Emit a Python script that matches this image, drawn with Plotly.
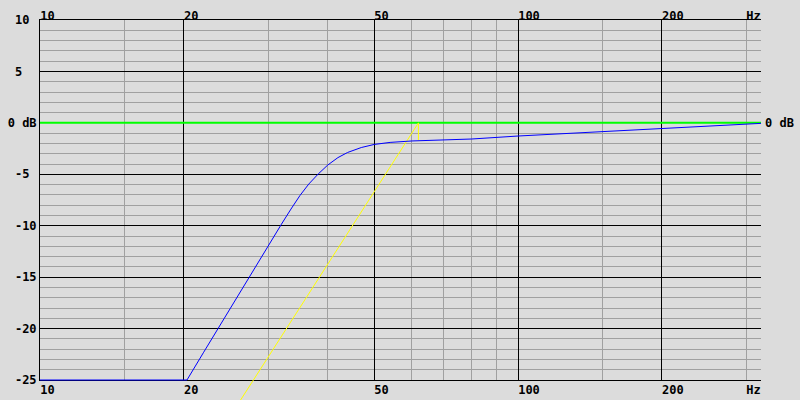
import plotly.graph_objects as go

# ---- data ----
freq_blue = [10, 20.3, 22, 24, 26, 28, 30, 32, 33.5, 35, 36.5, 38.2, 40, 42, 44, 47, 50, 54, 60,
             70, 80, 100, 130, 160, 200, 250, 290, 322.4]
db_blue = [-25, -25, -22.3, -19.4, -16.7, -14.2, -11.95, -9.85, -8.38, -7.05, -5.95, -4.97, -4.1,
           -3.38, -2.88, -2.4, -2.1, -1.9, -1.76,
           -1.67, -1.57, -1.28, -1.0, -0.78, -0.52, -0.27, -0.12, -0.05]
freq_yellow = [24.0, 61.9, 61.9]
db_yellow = [-29.8, 0, -1.7]
freq_ref = [10, 322.4]
db_ref = [0, 0]

x_major = [10, 20, 50, 100, 200]
x_minor = [15, 30, 40, 60, 70, 80, 90, 150, 300]
x_label_vals = [10, 20, 50, 100, 200, 300]
x_label_text = ["10", "20", "50", "100", "200", "Hz"]
y_major = [-25, -20, -15, -10, -5, 0, 5, 10]
y_label_text = ["-25", "-20", "-15", "-10", "-5", "0 dB", "5", "10"]

# ---- layout constants ----
W, H = 800, 400
L, R = 40, 39
TOP, BOT = 20, 380
x_range = [1.0, 1.0 + (W - L - R) / 478.0]
y_range = [-25, 10]
db_per_px = 35.0 / (BOT - TOP)
y2_range = [-25 - (H - BOT) * db_per_px, 10 + TOP * db_per_px]

NB = "\u00a0"
def pad(s, n=3):
    return s + NB * max(0, n - len(s))

font = dict(family="DejaVu Sans Mono", size=12, color="black", weight="bold")
BG = "#dcdcdc"
GRID = "#a0a0a0"
CLEAR = "rgba(0,0,0,0)"

fig = go.Figure()
# invisible anchors so every axis/subplot gets drawn
for xa, ya in [("x", "y"), ("x3", "y"), ("x4", "y"), ("x", "y3")]:
    fig.add_trace(go.Scatter(x=[10], y=[-25], xaxis=xa, yaxis=ya, mode="markers",
                             marker=dict(opacity=0, size=1), hoverinfo="skip"))
fig.add_trace(go.Scatter(x=freq_ref, y=db_ref, xaxis="x2", yaxis="y2", mode="lines",
                         line=dict(color="#00ff00", width=2), hoverinfo="skip"))
fig.add_trace(go.Scatter(x=freq_yellow, y=db_yellow, xaxis="x2", yaxis="y2", mode="lines",
                         line=dict(color="#ffff00", width=1), hoverinfo="skip"))
fig.add_trace(go.Scatter(x=freq_blue, y=db_blue, xaxis="x2", yaxis="y2", mode="lines",
                         line=dict(color="#0000ff", width=1), hoverinfo="skip"))

fig.update_layout(
    template="none",
    width=W, height=H,
    margin=dict(l=L, r=R, t=0, b=0, pad=0),
    paper_bgcolor=BG, plot_bgcolor=CLEAR,
    showlegend=False,
    font=font,
    xaxis=dict(type="log", range=x_range, domain=[0, 1], anchor="y",
               tickvals=x_major, showticklabels=False, ticks="",
               showgrid=True, gridcolor="black", gridwidth=1,
               minor=dict(tickvals=x_minor, showgrid=True, gridcolor=GRID, gridwidth=1, ticks=""),
               showline=True, linecolor="black", linewidth=1, mirror=True,
               zeroline=False, automargin=False, fixedrange=True),
    yaxis=dict(range=y_range, domain=[(H - BOT) / H, (H - TOP) / H], anchor="x",
               tickvals=y_major, ticktext=[pad(t) for t in y_label_text],
               ticks="", showgrid=True, gridcolor="black", gridwidth=1,
               minor=dict(dtick=1, tick0=0, showgrid=True, gridcolor=GRID, gridwidth=1, ticks=""),
               showline=True, linecolor="black", linewidth=1,
               zeroline=False, automargin=False, fixedrange=True, tickfont=font,
               ticklabelstandoff=0),
    xaxis3=dict(type="log", range=x_range, overlaying="x", anchor="y", side="bottom",
                tickvals=x_label_vals, ticktext=[pad(t) for t in x_label_text],
                ticks="", showgrid=False, showline=False, zeroline=False,
                ticklabelshift=11, ticklabelstandoff=1, tickfont=font,
                automargin=False, fixedrange=True),
    xaxis4=dict(type="log", range=x_range, overlaying="x", anchor="y", side="top",
                tickvals=x_label_vals, ticktext=[pad(t) for t in x_label_text],
                ticks="", showgrid=False, showline=False, zeroline=False,
                ticklabelshift=11, ticklabelstandoff=-3, tickfont=font,
                automargin=False, fixedrange=True),
    yaxis3=dict(range=y_range, overlaying="y", anchor="x", side="right",
                tickvals=[0], ticktext=["0 dB"], ticks="", showgrid=False,
                showline=False, zeroline=False, tickfont=font, ticklabelstandoff=3,
                automargin=False, fixedrange=True),
    xaxis2=dict(type="log", range=x_range, domain=[0, 1], anchor="y2", visible=False,
                fixedrange=True),
    yaxis2=dict(range=y2_range, domain=[0, 1], anchor="x2", visible=False, fixedrange=True),
)

fig.write_html("out.html", config={"displayModeBar": False, "staticPlot": True},
               post_script="document.body.style.margin='0';")
